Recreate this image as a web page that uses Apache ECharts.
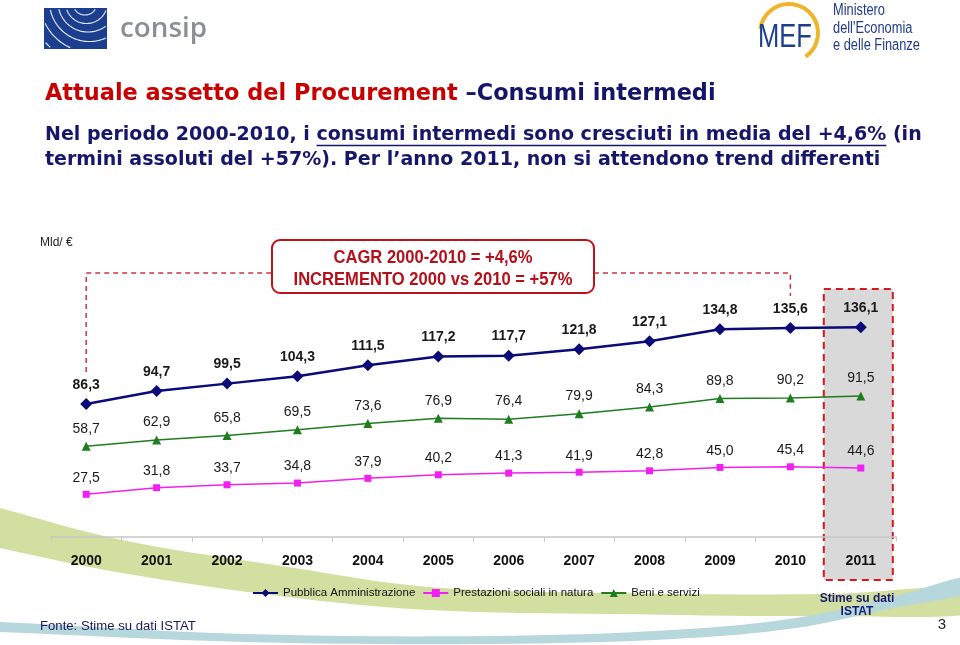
<!DOCTYPE html>
<html><head><meta charset="utf-8">
<script src="https://cdn.jsdelivr.net/npm/echarts@6/dist/echarts.min.js"></script>
<style>html,body{margin:0;padding:0;background:#fff}#c{width:960px;height:645px}</style>
</head><body><div id="c"></div>
<script>
// ---- data ----
const years = ['2000','2001','2002','2003','2004','2005','2006','2007','2008','2009','2010','2011'];
const pubblica = [86.3, 94.7, 99.5, 104.3, 111.5, 117.2, 117.7, 121.8, 127.1, 134.8, 135.6, 136.1];
const prestazioni = [27.5, 31.8, 33.7, 34.8, 37.9, 40.2, 41.3, 41.9, 42.8, 45.0, 45.4, 44.6];
const beni = [58.7, 62.9, 65.8, 69.5, 73.6, 76.9, 76.4, 79.9, 84.3, 89.8, 90.2, 91.5];
const seriesNames = ['Pubblica Amministrazione', 'Prestazioni sociali in natura', 'Beni e servizi'];

const SANS = '"Liberation Sans", Arial, sans-serif';
const NARROW = '"Liberation Sans Narrow", "Arial Narrow", "Liberation Sans", Arial, sans-serif';
const DEJA = '"DejaVu Sans", sans-serif';

const mctx = document.createElement('canvas').getContext('2d');
function tw(text, font){ mctx.font = font; return mctx.measureText(text).width; }
function fitSize(text, weight, family, target){ const w = tw(text, weight + ' 20px ' + family); return 20 * target / w; }

const fmt = v => v.toFixed(1).replace('.', ',');
const labelBase = {show:true, position:'top', distance:6, fontFamily:SANS, fontSize:14, color:'#1a1a1a', formatter: p => fmt(p.value)};

const chart = echarts.init(document.getElementById('c'), null, {renderer:'canvas'});
chart.setOption({
  animation:false,
  backgroundColor:'#ffffff',
  grid:{left:51, right:64, top:290.6, bottom:108.4, outerBoundsMode:'none'},
  legend:{left:247, top:582, itemWidth:25, itemHeight:10, itemGap:7,
    textStyle:{fontFamily:SANS, fontSize:11.5, color:'#111'}, data:seriesNames},
  xAxis:{type:'category', data:years, boundaryGap:true,
    axisLine:{lineStyle:{color:'#c8c8c8', width:1.5}},
    axisTick:{show:true, length:5, lineStyle:{color:'#c8c8c8'}},
    axisLabel:{margin:18, interval:0, fontFamily:SANS, fontWeight:'bold', fontSize:14, color:'#111'}},
  yAxis:{type:'value', min:0, max:160, show:false},
  series:[
    {name:seriesNames[0], type:'line', data:pubblica, symbol:'diamond', symbolSize:12, z:5,
      lineStyle:{color:'#0a0a78', width:2.5}, itemStyle:{color:'#0a0a78'},
      label:Object.assign({}, labelBase, {fontWeight:'bold'})},
    {name:seriesNames[1], type:'line', data:prestazioni, symbol:'rect', symbolSize:7, z:3,
      lineStyle:{color:'#f020f0', width:1.5}, itemStyle:{color:'#f020f0'}, label:labelBase},
    {name:seriesNames[2], type:'line', data:beni, symbol:'triangle', symbolSize:9, z:4,
      lineStyle:{color:'#1f7d1f', width:1.5}, itemStyle:{color:'#1f7d1f'}, label:labelBase}
  ]
});

// ---- decorations positioned from the axis ----
const p2000 = chart.convertToPixel({gridIndex:0}, ['2000', 0]);
const p2010 = chart.convertToPixel({gridIndex:0}, ['2010', 0]);
const p2011 = chart.convertToPixel({gridIndex:0}, ['2011', 0]);

const g = [];
// background swooshes
g.push({type:'polygon', z:-20, shape:{smooth:0.35, points:[[-30,500],[0,508],[122,540],[288,567],[429,587],[612,593],[827,594],[990,588],[990,612],[827,616],[612,614],[429,610],[288,597],[122,573],[0,548],[-30,540]]}, style:{fill:'#d3dfa0'}});
g.push({type:'polygon', z:-19, shape:{smooth:0.35, points:[[-30,621],[0,622],[245,634],[490,636],[673,630],[796,618],[888,598],[990,572],[990,588],[888,609],[796,628],[673,639],[490,644],[245,642],[0,632],[-30,631]]}, style:{fill:'#b6d7dc'}});

// 2011 estimate box
g.push({type:'rect', z:-5, shape:{x:p2011[0]-37, y:289, width:69, height:291}, style:{fill:'#d9d9d9'}});
g.push({type:'rect', z:-4, shape:{x:p2011[0]-37, y:289, width:69, height:291}, style:{fill:null, stroke:'#d9161c', lineWidth:2, lineDash:[7,5]}});

// bracket
g.push({type:'polyline', z:-3, shape:{points:[[p2000[0],372],[p2000[0],273],[272,273]]}, style:{stroke:'#cc3344', lineWidth:1.5, lineDash:[5,4], fill:null}});
g.push({type:'polyline', z:-3, shape:{points:[[594,273],[p2010[0],273],[p2010[0],296]]}, style:{stroke:'#cc3344', lineWidth:1.5, lineDash:[5,4], fill:null}});

// CAGR box
g.push({type:'rect', z:10, shape:{x:272, y:240, width:322, height:53, r:8}, style:{fill:'#fff', stroke:'#c0121c', lineWidth:2}});
const cagr1 = 'CAGR 2000-2010 = +4,6%';
const cagr2 = 'INCREMENTO 2000 vs 2010 = +57%';
const cs = fitSize(cagr2, 'bold', NARROW, 279);
g.push({type:'text', z:11, x:433, y:258, scaleY:1.12, style:{text:cagr1, font:'bold '+cs+'px '+NARROW, fill:'#b5101a', textAlign:'center', textVerticalAlign:'middle'}});
g.push({type:'text', z:11, x:433, y:280, scaleY:1.12, style:{text:cagr2, font:'bold '+cs+'px '+NARROW, fill:'#b5101a', textAlign:'center', textVerticalAlign:'middle'}});

// title
const t1 = 'Attuale assetto del Procurement ';
const t2 = '–Consumi intermedi';
const ts = fitSize(t1 + t2, 'bold', DEJA, 671);
const tfont = 'bold ' + ts + 'px ' + DEJA;
g.push({type:'text', z:11, x:45, y:94, style:{text:t1, font:tfont, fill:'#c80000', textAlign:'left', textVerticalAlign:'middle'}});
g.push({type:'text', z:11, x:45 + tw(t1, tfont), y:94, style:{text:t2, font:tfont, fill:'#141468', textAlign:'left', textVerticalAlign:'middle'}});

// subtitle
const s1 = 'Nel periodo 2000-2010, i consumi intermedi sono cresciuti in media del +4,6% (in';
const s2 = 'termini assoluti del +57%). Per l\u2019anno 2011, non si attendono trend differenti';
const ss = fitSize(s1, 'bold', DEJA, 877);
const sfont = 'bold ' + ss + 'px ' + DEJA;
g.push({type:'text', z:11, x:45, y:135, style:{text:s1, font:sfont, fill:'#16166a', textAlign:'left', textVerticalAlign:'middle'}});
g.push({type:'text', z:11, x:45, y:160, style:{text:s2, font:sfont, fill:'#16166a', textAlign:'left', textVerticalAlign:'middle'}});
const uA = 45 + tw('Nel periodo 2000-2010, i ', sfont);
const uB = 45 + tw('Nel periodo 2000-2010, i consumi intermedi sono cresciuti in media del +4,6%', sfont);
g.push({type:'line', z:11, shape:{x1:uA, y1:145.5, x2:uB, y2:145.5}, style:{stroke:'#16166a', lineWidth:1.3}});

// unit
g.push({type:'text', z:11, x:40, y:243, style:{text:'Mld/ \u20ac', font:'12px '+SANS, fill:'#222', textAlign:'left', textVerticalAlign:'middle'}});

// footer
const fs = fitSize('Fonte: Stime su dati ISTAT', 'normal', SANS, 156);
g.push({type:'text', z:11, x:40, y:626, style:{text:'Fonte: Stime su dati ISTAT', font:fs+'px '+SANS, fill:'#1a1a5e', textAlign:'left', textVerticalAlign:'middle'}});
g.push({type:'text', z:11, x:857, y:599, style:{text:'Stime su dati', font:'bold 12px '+SANS, fill:'#1a1a6e', textAlign:'center', textVerticalAlign:'middle'}});
g.push({type:'text', z:11, x:857, y:612, style:{text:'ISTAT', font:'bold 12px '+SANS, fill:'#1a1a6e', textAlign:'center', textVerticalAlign:'middle'}});
g.push({type:'text', z:11, x:946, y:625, style:{text:'3', font:'15px '+SANS, fill:'#222', textAlign:'right', textVerticalAlign:'middle'}});

// consip logo
g.push({type:'rect', z:11, shape:{x:44, y:8, width:63, height:41}, style:{fill:'#1b3f8e'}});
const radii = [12, 21, 30, 40, 51, 63];
radii.forEach((r, k) => {
  const cx = 85 + k*1.5, cy = 3 - k*0.5;
  let seg = [];
  const flush = () => { if (seg.length > 1) g.push({type:'polyline', z:12, shape:{points:seg}, style:{stroke:'#dfe8f5', lineWidth:1.2, fill:null}}); seg = []; };
  for (let a = 0; a <= 360; a += 2) {
    const x = cx + r*Math.cos(a*Math.PI/180), y = cy + r*Math.sin(a*Math.PI/180);
    if (x > 45 && x < 106 && y > 9 && y < 48) seg.push([x, y]); else flush();
  }
  flush();
});
const cls = fitSize('consip', '600', '"Open Sans", sans-serif', 87);
g.push({type:'text', z:11, x:120, y:29, style:{text:'consip', font:'600 '+cls+'px "Open Sans", sans-serif', fill:'#8b8e92', textAlign:'left', textVerticalAlign:'middle'}});

// MEF logo
g.push({type:'arc', z:11, shape:{cx:789, cy:33, r:29, startAngle:188*Math.PI/180, endAngle:415*Math.PI/180, clockwise:true}, style:{stroke:'#f0b42a', lineWidth:4, fill:null}});
const ms = fitSize('MEF', 'normal', SANS, 54);
g.push({type:'text', z:12, x:785, y:38, scaleY:1.3, style:{text:'MEF', font:ms+'px '+SANS, fill:'#1c3f8f', textAlign:'center', textVerticalAlign:'middle'}});
const mn = fitSize('e delle Finanze', 'normal', NARROW, 87);
['Ministero', 'dell\'Economia', 'e delle Finanze'].forEach((t, i) => {
  g.push({type:'text', z:12, x:833, y:11 + i*17.5, scaleY:1.25, style:{text:t, font:mn+'px '+NARROW, fill:'#1f3c88', textAlign:'left', textVerticalAlign:'middle'}});
});

chart.setOption({graphic:{elements:g}});
</script>
</body></html>
